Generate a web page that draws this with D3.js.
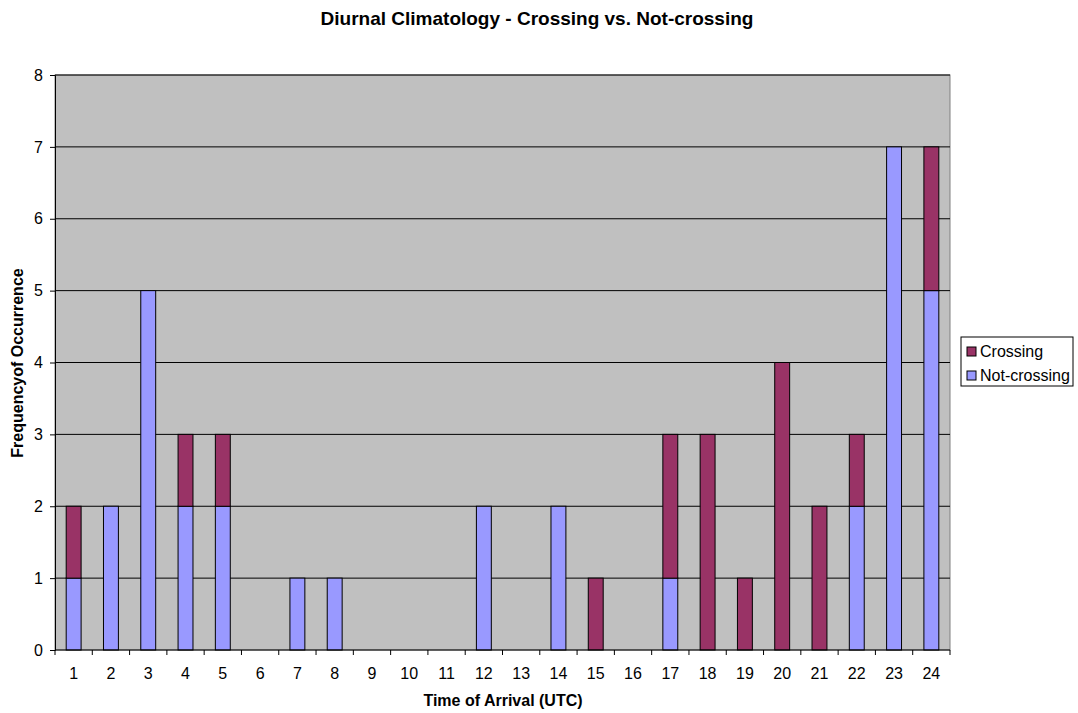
<!DOCTYPE html>
<html>
<head>
<meta charset="utf-8">
<script src="https://cdn.jsdelivr.net/npm/d3@7"></script>
<style>
  body { margin: 0; background: #fff; font-family: "Liberation Sans", Arial, sans-serif; }
  svg text { font-family: "Liberation Sans", Arial, sans-serif; }
</style>
</head>
<body>
<svg id="chart" width="1078" height="713"></svg>
<script>
// categorias (hora de llegada) y series
const hours = d3.range(1, 25).map(String);
const notCrossing = [1, 2, 5, 2, 2, 0, 1, 1, 0, 0, 0, 2, 0, 2, 0, 0, 1, 0, 0, 0, 0, 2, 7, 5];
const crossing    = [1, 0, 0, 1, 1, 0, 0, 0, 0, 0, 0, 0, 0, 0, 1, 0, 2, 3, 1, 4, 2, 1, 0, 2];
const yTicks = [0, 1, 2, 3, 4, 5, 6, 7, 8];

// caja del grafico
const margin = { top: 75, left: 55, right: 128, bottom: 63 };
const width = 1078, height = 713;
const realWidth = width - margin.left - margin.right;
const realHeight = height - margin.top - margin.bottom;

const svg = d3.select("#chart");
const g = svg.append("g").attr("transform", `translate(${margin.left},${margin.top})`);

const x = d3.scaleBand().domain(hours).range([0, realWidth]).paddingInner(0).paddingOuter(0);
const y = d3.scaleLinear().domain([0, 8]).range([realHeight, 0]);

// fondo gris del area
g.append("rect")
  .attr("width", realWidth).attr("height", realHeight)
  .attr("fill", "#c0c0c0").attr("stroke", "#808080").attr("stroke-width", 1);

// lineas de grilla
g.selectAll("line.grid").data(yTicks.filter(d => d > 0)).enter().append("line")
  .attr("x1", 0).attr("x2", realWidth)
  .attr("y1", d => y(d)).attr("y2", d => y(d))
  .attr("stroke", "#000").attr("stroke-width", 1);

// datos apilados
const rows = hours.map((h, i) => ({ hour: h, notCrossing: notCrossing[i], crossing: crossing[i] }));
const stack = d3.stack().keys(["notCrossing", "crossing"]);
const series = stack(rows);
const colors = { notCrossing: "#9999ff", crossing: "#993366" };
const barW = x.bandwidth() * 0.4;

series.forEach(s => {
  g.append("g").selectAll("rect").data(s.filter(d => d[1] - d[0] > 0)).enter().append("rect")
    .attr("x", d => x(d.data.hour) + (x.bandwidth() - barW) / 2)
    .attr("y", d => y(d[1]))
    .attr("width", barW)
    .attr("height", d => y(d[0]) - y(d[1]))
    .attr("fill", colors[s.key])
    .attr("stroke", "#000").attr("stroke-width", 1);
});

// eje Y
const axisY = d3.axisLeft(y).tickValues(yTicks).tickSize(5).tickPadding(7);
const ejeY = g.append("g").call(axisY).attr("font-size", 16);
ejeY.select(".domain").attr("stroke", "#000");
ejeY.selectAll("text").style("font-size", "16px").attr("fill", "#000");

// eje X: ticks entre categorias
const ejeX = g.append("g").attr("transform", `translate(0,${realHeight})`);
ejeX.append("line").attr("x1", 0).attr("x2", realWidth).attr("stroke", "#000");
ejeX.selectAll("line.tick").data(d3.range(0, 25)).enter().append("line")
  .attr("x1", d => d * x.step()).attr("x2", d => d * x.step())
  .attr("y1", 0).attr("y2", 5).attr("stroke", "#000");
ejeX.selectAll("text").data(hours).enter().append("text")
  .attr("x", d => x(d) + x.bandwidth() / 2)
  .attr("y", 29)
  .attr("text-anchor", "middle")
  .style("font-size", "16px")
  .text(d => d);

// titulos
svg.append("text").attr("x", 537).attr("y", 25).attr("text-anchor", "middle")
  .style("font-size", "19px").attr("font-weight", "bold").text("Diurnal Climatology - Crossing vs. Not-crossing");
svg.append("text").attr("x", 503).attr("y", 706).attr("text-anchor", "middle")
  .style("font-size", "16px").attr("font-weight", "bold").text("Time of Arrival (UTC)");
svg.append("text").attr("transform", `translate(23,363) rotate(-90)`)
  .attr("text-anchor", "middle").style("font-size", "16px").attr("font-weight", "bold").text("Frequencyof Occurrence");

// leyenda
const legend = svg.append("g").attr("transform", "translate(961,337)");
legend.append("rect").attr("width", 112).attr("height", 49).attr("fill", "#fff").attr("stroke", "#000");
const legendItems = [{ key: "crossing", label: "Crossing" }, { key: "notCrossing", label: "Not-crossing" }];
legendItems.forEach((d, i) => {
  legend.append("rect").attr("x", 6).attr("y", 10 + i * 24).attr("width", 9).attr("height", 9)
    .attr("fill", colors[d.key]).attr("stroke", "#000");
  legend.append("text").attr("x", 19).attr("y", 20 + i * 24).style("font-size", "16px").text(d.label);
});
</script>
</body>
</html>
